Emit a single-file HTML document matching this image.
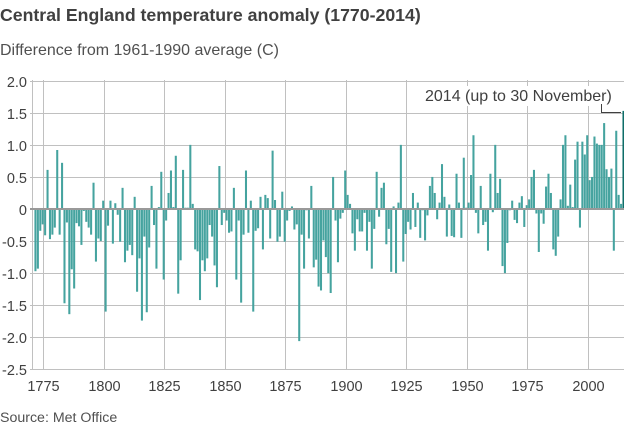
<!DOCTYPE html>
<html><head><meta charset="utf-8"><style>
html,body{margin:0;padding:0;background:#fff;}
svg{display:block;font-family:"Liberation Sans",Arial,sans-serif;}
</style></head><body>
<svg id="c" width="624" height="432" viewBox="0 0 624 432" xmlns="http://www.w3.org/2000/svg">
<text x="0" y="21" font-size="17.7" font-weight="bold" fill="#404040">Central England temperature anomaly (1770-2014)</text>
<text x="0" y="55" font-size="16" fill="#505050">Difference from 1961-1990 average (C)</text>
<g id="grid" stroke="#c0c0c0" stroke-width="1"></g>
<g id="ylab" font-size="14.5" fill="#404040" text-anchor="end"></g>
<g id="xlab" font-size="14.5" fill="#404040" text-anchor="middle"></g>
<g id="bars" fill="#45a39f"></g>
<line x1="30" y1="209" x2="624" y2="209" stroke="#999" stroke-width="2"/>
<rect x="422" y="86" width="194" height="20" fill="#fff"/>
<text x="425" y="101" font-size="16" fill="#404040">2014 (up to 30 November)</text>
<polyline points="601.5,104 601.5,112.5 621,112.5" fill="none" stroke="#404040" stroke-width="1"/>
<text x="0" y="422" font-size="14.2" fill="#505050">Source: Met Office</text>
</svg>
<script>
var NS="http://www.w3.org/2000/svg";
function el(p,t,a,txt){var e=document.createElementNS(NS,t);for(var k in a)e.setAttribute(k,a[k]);if(txt!==undefined)e.textContent=txt;document.getElementById(p).appendChild(e);}
var y0=80.7,unit=64.13;
function Y(v){return 209-v*unit;}
var labs=["2.0","1.5","1.0","0.5","0","-0.5","-1.0","-1.5","-2.0","-2.5"];
for(var i=0;i<10;i++){var y=Math.round(y0+i*32.07)+0.5;
 el("grid","line",{x1:30,y1:y,x2:624,y2:y});
 el("ylab","text",{x:27,y:y+5.5},labs[i]);}
el("grid","line",{x1:32.5,y1:80,x2:32.5,y2:369});
for(var k=0;k<10;k++){var x=Math.round(43.3+k*60.5)+0.5;
 el("grid","line",{x1:x,y1:80,x2:x,y2:369});
 el("xlab","text",{x:x,y:391},String(1775+k*25));}
var d=[-0.97,-0.93,-0.34,-0.24,-0.41,0.61,-0.47,-0.40,-0.29,0.92,-0.40,0.72,-1.47,-0.21,-1.64,-0.94,-1.24,-0.22,-0.27,-0.56,-0.03,-0.2,-0.29,-0.40,0.41,-0.82,-0.46,-0.5,0.13,-1.6,-0.26,0.13,-0.54,0.09,-0.09,-0.51,0.33,-0.83,-0.65,-0.56,-0.72,0.19,-1.29,-0.77,-1.74,-0.43,-1.61,-0.6,0.36,-0.25,-0.93,0.03,0.58,-1.1,-0.18,0.25,0.6,0.03,0.83,-1.32,-0.8,
0.61,0.02,0.02,1.0,0.08,-0.63,-0.66,-1.42,-0.8,-0.97,-0.77,-0.25,-0.43,-0.88,-1.22,0.67,-0.25,-0.06,-0.18,-0.37,-0.35,0.33,-1.1,-0.18,-1.46,-0.4,0.6,-0.37,0.13,-1.6,-0.34,-0.3,0.19,-0.63,0.22,0.17,-0.46,0.91,0.14,-0.51,-0.43,0.27,-0.51,-0.18,-0.03,0.04,-0.32,-0.24,-2.06,-0.4,-0.93,-0.02,-0.46,0.36,-0.91,-0.79,-1.21,-1.27,-0.49,-0.75,
-1.0,-1.31,0.5,-0.18,-0.83,-0.15,-0.06,0.6,0.22,0.08,-0.38,-0.65,-0.16,-0.35,-0.35,-0.06,-0.65,-0.2,-0.93,-0.31,0.58,-0.12,0.33,0.41,-0.55,-0.31,-0.98,0.04,-1.0,0.1,1.0,-0.82,-0.39,-0.2,-0.32,0.25,-0.28,0.1,-0.45,-0.02,-0.49,-0.1,0.36,0.5,0.25,-0.16,0.1,0.7,0.19,-0.43,0.07,-0.42,-0.44,0.55,0.1,-0.45,0.8,0.02,0.1,0.53,1.15,-0.06,
-0.38,0.36,-0.25,-0.2,-0.65,0.55,-0.05,1.0,0.25,0.47,-0.89,-1.0,-0.53,-0.02,0.13,-0.17,-0.22,0.1,0.2,-0.28,0.06,0.15,0.5,0.61,-0.07,-0.67,-0.07,-0.23,0.35,0.55,0.25,-0.63,-0.73,-0.43,0.15,1.0,1.15,0.05,0.38,0.03,0.77,1.05,-0.29,1.05,0.85,1.15,0.45,0.5,1.13,1.02,1.0,1.0,1.34,0.62,0.5,0.63,-0.65,1.22,0.22,0.08,1.53];
var n=d.length;
for(var i=0;i<n;i++){var v=d[i];var x=31.2+(244-(n-1)+i)*2.42+0.8;
 var y=v>=0?Y(v):209,h=Math.abs(v)*unit;
 var a={x:x.toFixed(2),y:y.toFixed(2),width:2.05,height:h.toFixed(2)};
 if(i==n-1)a.fill="#0f6e69";
 el("bars","rect",a);}
</script>
</body></html>
